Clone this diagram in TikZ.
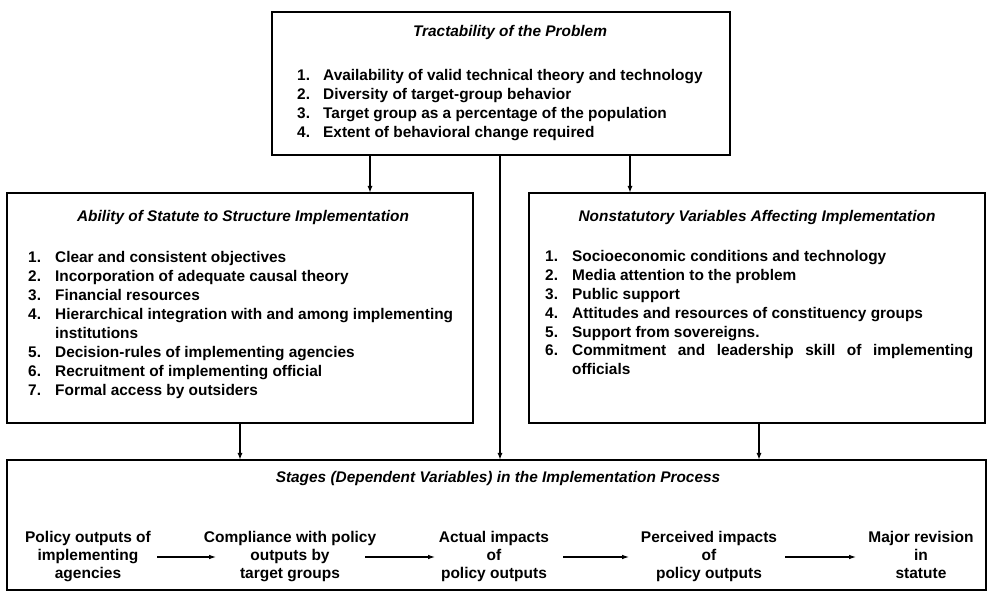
\documentclass[tikz,border=0pt]{standalone}
\usepackage{fontspec}
\setmainfont{Liberation Sans}
\usetikzlibrary{arrows.meta,calc}
\begin{document}
\begin{tikzpicture}[x=1pt,y=-1pt,
  box/.style={draw,line width=2.1pt,rectangle,inner sep=0pt,outer sep=0pt},
  ttl/.style={font=\bfseries\itshape\fontsize{15.4}{17}\selectfont,anchor=base,inner sep=0pt},
  lst/.style={font=\bfseries\fontsize{15.4}{18.8}\selectfont,anchor=base west,inner sep=0pt},
  stg/.style={font=\bfseries\fontsize{15.5}{18}\selectfont,anchor=center,inner sep=0pt},
  varr/.style={line width=1.5pt,-{Latex[length=7pt,width=5pt]}},
  sarr/.style={line width=1.9pt,-{Latex[length=8pt,width=4.5pt]}}]
\useasboundingbox (0,0) rectangle (989,593);

% boxes
\node[box,minimum width=458pt,minimum height=143pt] (top) at (501,83.5) {};
\node[box,minimum width=466pt,minimum height=230pt] (lb) at (240,308) {};
\node[box,minimum width=456pt,minimum height=230pt] (rb) at (757,308) {};
\node[box,minimum width=979pt,minimum height=130pt] (bot) at (496.5,525) {};

% top box
\node[ttl] (toptitle) at (510,37) {Tractability of the Problem};
\node[lst] (toplist) at (297,81) {\begin{tabular}[t]{@{}p{26pt}@{}l@{}}
1. & Availability of valid technical theory and technology\\
2. & Diversity of target-group behavior\\
3. & Target group as a percentage of the population\\
4. & Extent of behavioral change required
\end{tabular}};

% left box
\node[ttl] (lbtitle) at (243,222) {Ability of Statute to Structure Implementation};
\node[lst,font=\bfseries\fontsize{15.4}{19}\selectfont] (lblist) at (28,263) {\begin{tabular}[t]{@{}p{27pt}@{}l@{}}
1. & Clear and consistent objectives\\
2. & Incorporation of adequate causal theory\\
3. & Financial resources\\
4. & Hierarchical integration with and among implementing\\
   & institutions\\
5. & Decision-rules of implementing agencies\\
6. & Recruitment of implementing official\\
7. & Formal access by outsiders
\end{tabular}};

% right box
\node[ttl] (rbtitle) at (757,222) {Nonstatutory Variables Affecting Implementation};
\node[lst] (rblist) at (545,262) {\begin{tabular}[t]{@{}p{27pt}@{}l@{}}
1. & Socioeconomic conditions and technology\\
2. & Media attention to the problem\\
3. & Public support\\
4. & Attitudes and resources of constituency groups\\
5. & Support from sovereigns.\\
6. & \makebox[401pt][s]{Commitment and leadership skill of implementing}\\
   & officials
\end{tabular}};

% bottom box
\node[ttl] (bottitle) at (498,483) {Stages (Dependent Variables) in the Implementation Process};
\node[stg] (s1) at (88,557) {\begin{tabular}{@{}c@{}}Policy outputs of\\implementing\\agencies\end{tabular}};
\node[stg] (s2) at (290,557) {\begin{tabular}{@{}c@{}}Compliance with policy\\outputs by\\target groups\end{tabular}};
\node[stg] (s3) at (494,557) {\begin{tabular}{@{}c@{}}Actual impacts\\of\\policy outputs\end{tabular}};
\node[stg] (s4) at (709,557) {\begin{tabular}{@{}c@{}}Perceived impacts\\of\\policy outputs\end{tabular}};
\node[stg] (s5) at (921,557) {\begin{tabular}{@{}c@{}}Major revision\\in\\statute\end{tabular}};

\draw[sarr] ([xshift=69pt]s1.center) -- ([xshift=-73pt]s2.center);
\draw[sarr] ([xshift=75pt]s2.center) -- ([xshift=-58pt]s3.center);
\draw[sarr] ([xshift=69pt]s3.center) -- ([xshift=-79pt]s4.center);
\draw[sarr] ([xshift=76pt]s4.center) -- ([xshift=-64pt]s5.center);

% vertical connectors
\draw[varr] ([xshift=98pt]top.south west) coordinate (t1) -- (t1 |- lb.north);
\draw[varr] ([xshift=228pt]top.south west) coordinate (t2) -- (t2 |- bot.north);
\draw[varr] ([xshift=358pt]top.south west) coordinate (t3) -- (t3 |- rb.north);
\draw[varr] (lb.south) -- (lb.south |- bot.north);
\draw[varr] ([xshift=2pt]rb.south) coordinate (r1) -- (r1 |- bot.north);
\end{tikzpicture}
\end{document}
